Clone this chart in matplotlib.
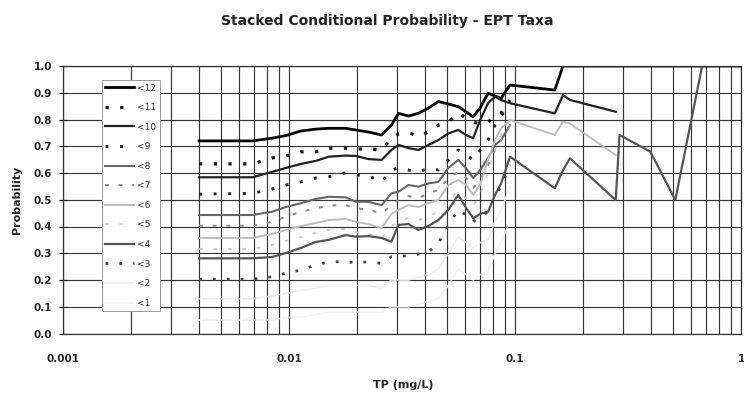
import numpy as np
import matplotlib
matplotlib.use('Agg')
import matplotlib.pyplot as plt
from matplotlib.ticker import FixedLocator, NullFormatter, LogLocator

nan = np.nan

# TP values (mg/L) where the curves are read
tp = [0.004, 0.0069, 0.0084, 0.0097, 0.0113, 0.0131, 0.015, 0.0178, 0.0197, 0.0225,
      0.0257, 0.0284, 0.0305, 0.0338, 0.0374, 0.0414, 0.0458, 0.0507, 0.0561, 0.0608,
      0.0653, 0.0701, 0.076, 0.0816, 0.0868, 0.095]
tp_tail = [0.150, 0.163, 0.175, 0.279, 0.29, 0.397, 0.512, 0.673, 1.0]

lt12 = [0.72, 0.72, 0.73, 0.74, 0.757, 0.764, 0.767, 0.767, 0.761, 0.753, 0.742, 0.779, 0.823,
        0.813, 0.823, 0.843, 0.867, 0.858, 0.848, 0.828, 0.81, 0.843, 0.898, 0.888, 0.879, 0.929]
lt11 = [0.634, 0.634, 0.656, 0.664, 0.679, 0.679, 0.693, 0.693, 0.69, 0.69, 0.686, 0.731, 0.746,
        0.75, 0.738, 0.753, 0.779, 0.791, 0.824, 0.806, 0.791, 0.783, 0.791, 0.813, 0.824, 0.873]
lt10 = [0.584, 0.584, 0.604, 0.619, 0.634, 0.645, 0.661, 0.665, 0.664, 0.652, 0.649, 0.686, 0.705,
        0.693, 0.686, 0.705, 0.723, 0.748, 0.761, 0.742, 0.73, 0.798, 0.861, 0.885, 0.873, 0.861]
lt9 = [0.521, 0.524, 0.54, 0.555, 0.567, 0.581, 0.586, 0.601, 0.593, 0.589, 0.567, 0.611, 0.619,
       0.611, 0.604, 0.618, 0.611, 0.649, 0.686, 0.667, 0.649, 0.686, 0.723, 0.779, 0.817, 0.843]
lt8 = [0.443, 0.443, 0.455, 0.473, 0.487, 0.503, 0.511, 0.509, 0.493, 0.492, 0.48, 0.524, 0.53,
       0.555, 0.549, 0.561, 0.567, 0.619, 0.649, 0.618, 0.581, 0.611, 0.656, 0.705, 0.723, 0.779]
lt7 = [0.403, 0.403, 0.417, 0.437, 0.455, 0.468, 0.478, 0.48, 0.469, 0.462, 0.449, 0.48, 0.499,
       0.514, 0.506, 0.525, 0.536, 0.581, 0.604, 0.581, 0.544, 0.574, 0.63, 0.686, 0.723, 0.779]
lt6 = [0.357, 0.357, 0.372, 0.387, 0.402, 0.413, 0.424, 0.428, 0.417, 0.409, 0.394, 0.447, 0.462,
       0.48, 0.473, 0.488, 0.499, 0.555, 0.574, 0.555, 0.518, 0.555, 0.649, 0.723, 0.768, 0.798]
lt5 = [0.316, 0.316, 0.331, 0.346, 0.361, 0.376, 0.387, 0.391, 0.379, 0.372, 0.357, 0.402, 0.417,
       0.432, 0.424, 0.439, 0.454, 0.506, 0.529, 0.506, 0.477, 0.518, 0.604, 0.686, 0.742, 0.779]
lt4 = [0.281, 0.281, 0.286, 0.301, 0.32, 0.342, 0.35, 0.368, 0.362, 0.364, 0.357, 0.343, 0.406,
       0.409, 0.387, 0.402, 0.424, 0.462, 0.518, 0.469, 0.431, 0.447, 0.455, 0.518, 0.561, 0.661]
lt3 = [0.203, 0.203, 0.212, 0.226, 0.237, 0.256, 0.268, 0.268, 0.265, 0.268, 0.262, 0.287, 0.29,
       0.29, 0.297, 0.305, 0.337, 0.406, 0.462, 0.443, 0.418, 0.439, 0.454, 0.518, 0.549, 0.63]
lt2 = [0.13, 0.13, 0.14, 0.15, 0.16, 0.17, 0.18, 0.18, 0.18, 0.18, 0.17, 0.2, 0.2,
       0.2, 0.21, 0.22, 0.24, 0.3, 0.36, 0.34, 0.32, 0.34, 0.35, 0.42, 0.46, 0.55]
lt1 = [0.05, 0.05, 0.05, 0.06, 0.06, 0.07, 0.08, 0.08, 0.08, 0.08, 0.08, 0.1, 0.1,
       0.1, 0.11, 0.12, 0.13, 0.18, 0.24, 0.22, 0.2, 0.22, 0.23, 0.3, 0.34, 0.42]

# beyond 0.1 only four curves are left
lt12_tail = [0.91, 1.0, 1.0, 1.0, 1.0, 1.0, 1.0, 1.0, 1.0]
lt10_tail = [0.823, 0.891, 0.873, 0.829, nan, nan, nan, nan, nan]
lt6_tail = [0.742, 0.792, 0.785, 0.667, nan, nan, nan, nan, nan]
lt4_tail = [0.543, 0.61, 0.655, 0.499, 0.742, 0.68, 0.499, 1.0, nan]

empty_tail = [nan] * len(tp_tail)
x_all = tp + tp_tail

series = [
    ('<12', lt12 + lt12_tail, dict(color='black', lw=2.0, ls='-')),
    ('<11', lt11 + empty_tail, dict(color='#111111', lw=2.3, ls=(0, (1, 3.6)))),
    ('<10', lt10 + lt10_tail, dict(color='#222222', lw=1.6, ls='-')),
    ('<9', lt9 + empty_tail, dict(color='#222222', lw=2.1, ls=(0, (1, 4)))),
    ('<8', lt8 + empty_tail, dict(color='#666666', lw=1.5, ls='-')),
    ('<7', lt7 + empty_tail, dict(color='#8a8a8a', lw=1.4, ls=(0, (2, 5)))),
    ('<6', lt6 + lt6_tail, dict(color='#bdbdbd', lw=1.4, ls='-')),
    ('<5', lt5 + empty_tail, dict(color='#c8c8c8', lw=1.3, ls=(0, (2, 6)))),
    ('<4', lt4 + lt4_tail, dict(color='#555555', lw=1.6, ls='-')),
    ('<3', lt3 + empty_tail, dict(color='#444444', lw=2.0, ls=(0, (1, 4)))),
    ('<2', lt2 + empty_tail, dict(color='#efefef', lw=1.2, ls='-')),
    ('<1', lt1 + empty_tail, dict(color='#f4f4f4', lw=1.2, ls='-')),
]

fig = plt.figure(figsize=(7.44, 3.94), dpi=100)
ax = fig.add_axes([63 / 744, 1 - 333.5 / 394, 678 / 744, 267.5 / 394])

for label, ys, style in series:
    ax.plot(x_all, ys, label=label, **style)

ax.set_xscale('log')
ax.set_xlim(0.001, 1)
ax.set_ylim(0, 1)

ax.xaxis.set_major_locator(FixedLocator([0.001, 0.01, 0.1, 1]))
ax.set_xticklabels(['0.001', '0.01', '0.1', '1'])
ax.xaxis.set_minor_locator(LogLocator(base=10, subs=np.arange(2, 10)))
ax.xaxis.set_minor_formatter(NullFormatter())
ax.set_yticks(np.arange(0, 1.01, 0.1))
ax.set_yticklabels(['%.1f' % v for v in np.arange(0, 1.01, 0.1)])

ax.grid(which='both', axis='x', color='#363636', lw=0.85)
ax.grid(which='major', axis='y', color='#363636', lw=0.85)
ax.set_axisbelow(True)

ax.tick_params(axis='x', which='both', length=0, pad=15, labelsize=7.5, colors='#222222')
ax.tick_params(axis='y', direction='inout', length=6, width=0.8, pad=5,
               labelsize=7.5, colors='#222222')
for lab in ax.get_xticklabels() + ax.get_yticklabels():
    lab.set_fontweight('bold')
for sp in ax.spines.values():
    sp.set_color('#333333')
    sp.set_linewidth(0.9)

ax.set_ylabel('Probability', fontsize=8, fontweight='bold', labelpad=8, color='#222222')
fig.text(403 / 744, 1 - 385 / 394, 'TP (mg/L)', ha='center', va='center',
         fontsize=8, fontweight='bold', color='#222222')
fig.text(387 / 744, 1 - 21 / 394, 'Stacked Conditional Probability - EPT Taxa',
         ha='center', va='center', fontsize=10, fontweight='bold', color='#222222')

leg = ax.legend(loc='upper left', bbox_to_anchor=(0.057, 0.948), borderaxespad=0,
                fontsize=6.5, labelspacing=1.17, handlelength=3.2, handletextpad=0.3,
                borderpad=0.4, frameon=True, fancybox=False, framealpha=1)
leg.get_frame().set_edgecolor('#999999')
leg.get_frame().set_linewidth(0.7)
for t in leg.get_texts():
    t.set_color('#333333')

plt.savefig('out.png', dpi=100)
